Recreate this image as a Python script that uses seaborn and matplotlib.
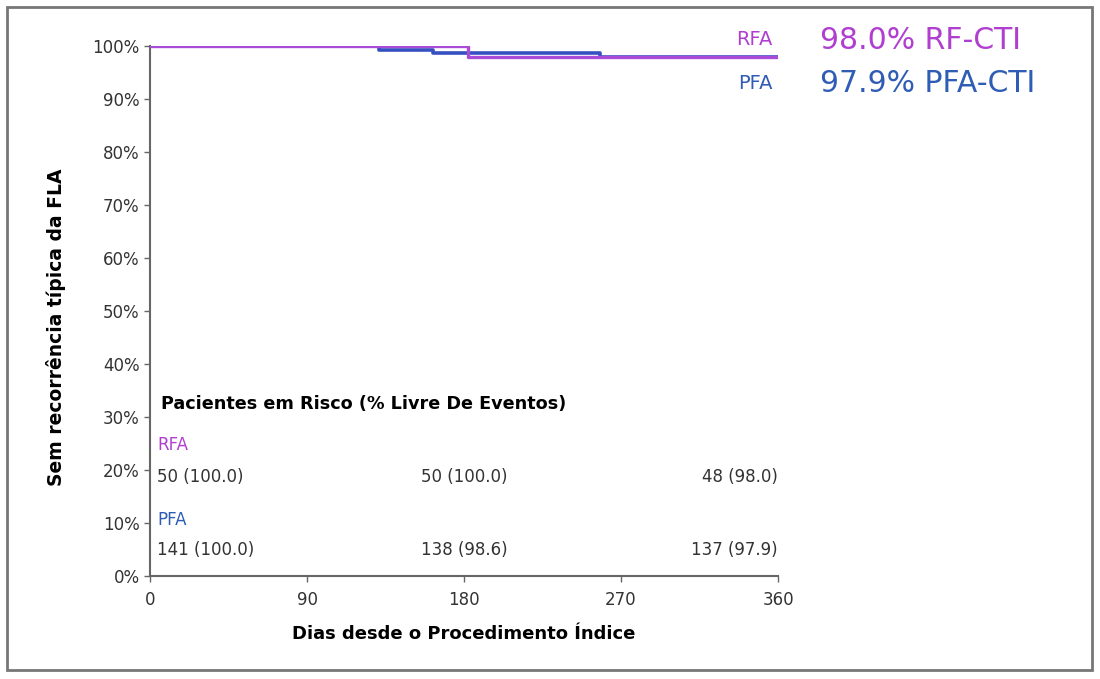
import numpy as np
import pandas as pd
import matplotlib
matplotlib.use('Agg')
import matplotlib.pyplot as plt
import seaborn as sns
from matplotlib.patches import Rectangle
from matplotlib.ticker import FuncFormatter

sns.set_theme(style='white')
plt.rcParams['font.family'] = ['DejaVu Sans']

# Kaplan-Meier step curves (days, % free of recurrence)
pfa_days = [0, 131, 162, 258, 360]
pfa_surv = [100.0, 99.3, 98.6, 97.9, 97.9]
rfa_days = [0, 182, 360]
rfa_surv = [100.0, 98.0, 98.0]

# patients at risk table
risk_days = [0, 180, 360]
rfa_risk = ['50 (100.0)', '50 (100.0)', '48 (98.0)']
pfa_risk = ['141 (100.0)', '138 (98.6)', '137 (97.9)']

x_ticks = [0, 90, 180, 270, 360]
y_ticks = [0, 10, 20, 30, 40, 50, 60, 70, 80, 90, 100]

RFA_COLOR = '#b03fd0'
PFA_COLOR = '#2f5cb4'

fig = plt.figure(figsize=(11, 6.79), dpi=100)
ax = fig.add_axes([0.1364, 0.1517, 0.5709, 0.7806])

pfa = pd.DataFrame({'dias': pfa_days, 'surv': pfa_surv})
rfa = pd.DataFrame({'dias': rfa_days, 'surv': rfa_surv})
sns.lineplot(data=pfa, x='dias', y='surv', ax=ax, color='#3550c0', lw=2.6,
             drawstyle='steps-post', estimator=None, sort=False, zorder=3)
sns.lineplot(data=rfa, x='dias', y='surv', ax=ax, color='#a84cd8', lw=2.4,
             drawstyle='steps-post', estimator=None, sort=False, zorder=4)

ax.set_xlim(0, 360)
ax.set_ylim(0, 100)
ax.set_xticks(x_ticks)
ax.set_yticks(y_ticks)
ax.yaxis.set_major_formatter(FuncFormatter(lambda v, p: f'{int(v)}%'))
ax.tick_params(axis='both', length=4, width=1, color='#666666', labelsize=12,
               labelcolor='#333333', direction='out', bottom=True, left=True)
ax.tick_params(axis='x', pad=7)
for s in ['top', 'right']:
    ax.spines[s].set_visible(False)
for s in ['left', 'bottom']:
    ax.spines[s].set_color('#666666')
    ax.spines[s].set_linewidth(1.5)

ax.set_xlabel('Dias desde o Procedimento Índice', fontsize=13, fontweight='bold',
              color='black', labelpad=11)
ax.set_ylabel('Sem recorrência típica da FLA', fontsize=13.5, fontweight='bold',
              color='black')
ax.yaxis.set_label_coords(-0.134, 0.47)

# labels at the end of the curves
ax.text(357, 101.3, 'RFA', color=RFA_COLOR, fontsize=14, ha='right', va='center', clip_on=False)
ax.text(357, 93.0, 'PFA', color=PFA_COLOR, fontsize=14, ha='right', va='center', clip_on=False)
fig.text(0.745, 0.941, '98.0% RF-CTI', color=RFA_COLOR, fontsize=21.5, ha='left', va='center')
fig.text(0.745, 0.877, '97.9% PFA-CTI', color=PFA_COLOR, fontsize=21.5, ha='left', va='center')

# patients at risk
ax.text(6, 32.5, 'Pacientes em Risco (% Livre De Eventos)', fontsize=12.7,
        fontweight='bold', color='black', va='center')
ax.text(4, 24.7, 'RFA', color=RFA_COLOR, fontsize=12, va='center')
ax.text(4, 10.6, 'PFA', color=PFA_COLOR, fontsize=12, va='center')
aligns = ['left', 'center', 'right']
offs = [4, 0, 0]
for d, r, p, ha, o in zip(risk_days, rfa_risk, pfa_risk, aligns, offs):
    ax.text(d + o, 18.7, r, fontsize=12, color='#333333', ha=ha, va='center')
    ax.text(d + o, 4.9, p, fontsize=12, color='#333333', ha=ha, va='center')

# outer frame
fig.patches.append(Rectangle((0.0064, 0.0133), 0.9863, 0.9764, transform=fig.transFigure,
                             fill=False, edgecolor='#777777', lw=2))

fig.savefig('out.png', dpi=100, facecolor='white')
